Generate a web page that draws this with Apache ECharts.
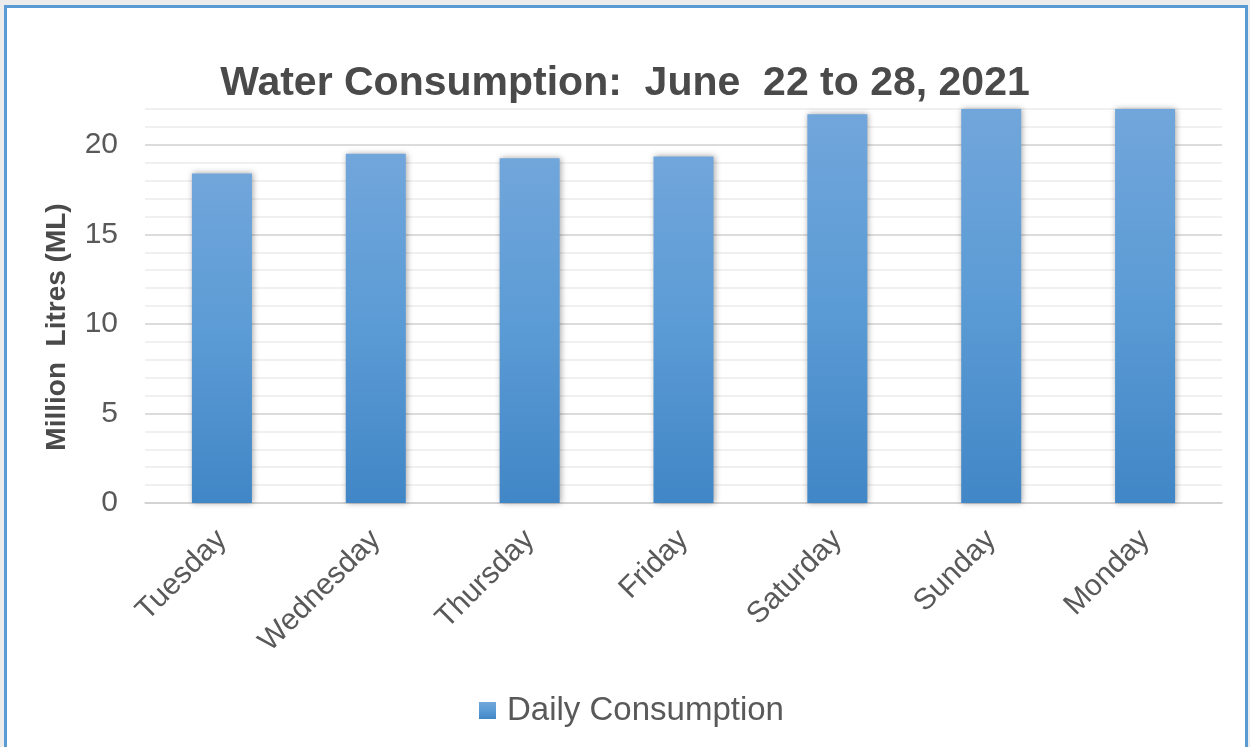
<!DOCTYPE html>
<html>
<head>
<meta charset="utf-8">
<script src="https://cdn.jsdelivr.net/npm/echarts@6/dist/echarts.min.js"></script>
<style>
  html, body { margin: 0; padding: 0; width: 1250px; height: 747px; background: #ececec; overflow: hidden; }
  #frame { position: absolute; left: 4px; top: 5px; width: 1244px; height: 760px; box-sizing: border-box; border: 3px solid #5b9bd5; background: #ffffff; }
  #chart { position: absolute; left: 0; top: 0; width: 1250px; height: 747px; }
</style>
</head>
<body>
<div id="frame"></div>
<div id="chart"></div>
<script>
const categories = ['Tuesday', 'Wednesday', 'Thursday', 'Friday', 'Saturday', 'Sunday', 'Monday'];
const dailyConsumption = [18.4, 19.5, 19.25, 19.35, 21.7, 22.3, 22.4];
const seriesName = 'Daily Consumption';
const titleText = 'Water Consumption:  June  22 to 28, 2021';
const yAxisName = 'Million  Litres (ML)';
const yMin = 0, yMax = 22, yStep = 1, yLabelStep = 5;

const chart = echarts.init(document.getElementById('chart'), null, { renderer: 'canvas' });
const font = 'Liberation Sans, Arial, sans-serif';
chart.setOption({
  backgroundColor: 'transparent',
  animation: false,
  textStyle: { fontFamily: font },
  title: {
    text: titleText,
    left: 'center',
    top: 58,
    textStyle: { fontSize: 41, fontWeight: 'bold', color: '#4a4a4a', fontFamily: font }
  },
  legend: {
    data: [seriesName],
    left: 479,
    top: 694,
    padding: 0,
    icon: 'rect',
    itemWidth: 17,
    itemHeight: 17,
    textStyle: { fontSize: 33, color: '#595959', fontFamily: font, padding: [0, 0, 0, 6] }
  },
  grid: { left: 145, right: 28, top: 109, bottom: 244, containLabel: false },
  xAxis: {
    type: 'category',
    data: categories,
    axisTick: { show: false },
    axisLine: { show: true, lineStyle: { color: '#d0d0d0', width: 1.5 } },
    axisLabel: { rotate: 45, fontSize: 30, color: '#595959', margin: 32, fontFamily: font }
  },
  yAxis: {
    type: 'value',
    min: yMin,
    max: yMax,
    interval: yStep,
    name: yAxisName,
    nameLocation: 'middle',
    nameRotate: 90,
    nameGap: 74,
    nameTextStyle: { fontSize: 28, fontWeight: 'bold', color: '#4a4a4a', fontFamily: font, padding: [0, 42, 0, 0] },
    axisLine: { show: false },
    axisTick: { show: false },
    axisLabel: {
      fontSize: 30, color: '#595959', margin: 27, fontFamily: font,
      formatter: v => (v % yLabelStep === 0 ? String(v) : '')
    },
    splitLine: {
      show: true,
      lineStyle: { color: ['#d0d0d0', '#ebebeb', '#ebebeb', '#ebebeb', '#ebebeb'], width: 1.5 }
    }
  },
  series: [{
    name: seriesName,
    type: 'bar',
    data: dailyConsumption,
    barWidth: 60,
    clip: true,
    itemStyle: {
      color: new echarts.graphic.LinearGradient(0, 0, 0, 1, [
        { offset: 0, color: '#71a6db' },
        { offset: 0.5, color: '#5b9bd5' },
        { offset: 1, color: '#4186c6' }
      ]),
      shadowColor: 'rgba(0,0,0,0.35)',
      shadowBlur: 6,
      shadowOffsetX: 1,
      shadowOffsetY: 0
    }
  }]
});
</script>
</body>
</html>
